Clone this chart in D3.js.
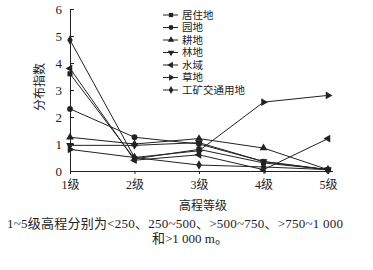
<!DOCTYPE html>
<html lang="zh">
<head>
<meta charset="UTF-8">
<title>分布指数</title>
<style>
  body { margin: 0; background: #fff; }
  text { fill: #222; }
</style>
</head>
<body>
<script src="https://cdn.jsdelivr.net/npm/d3@7"></script>
<script>
    // 数据
    var categories = ['1级', '2级', '3级', '4级', '5级'];
    var seriesNames = ['居住地', '园地', '耕地', '林地', '水域', '草地', '工矿交通用地'];
    var juzhu = [3.6, 0.45, 0.8, 0.3, 0.05];
    var yuan = [2.3, 1.25, 1.0, 0.35, 0.05];
    var geng = [1.25, 1.0, 1.2, 0.85, 0.05];
    var lin = [0.95, 0.95, 1.05, 0.35, 0.05];
    var shui = [3.8, 0.4, 0.6, 0.05, 1.2];
    var cao = [0.8, 0.5, 0.75, 2.55, 2.8];
    var gongkuang = [4.85, 0.5, 0.22, 0.15, 0.05];
    var yTicks = [0, 1, 2, 3, 4, 5, 6];

    var allSeries = [juzhu, yuan, geng, lin, shui, cao, gongkuang];
    var symbols = [d3.symbolSquare, d3.symbolCircle, 'up', 'down', 'left', 'right', d3.symbolDiamond];

    var width = 373, height = 270,
        ink = '#222',
        serif = '"Liberation Serif", "Noto Sans CJK SC", serif',
        cjk = '"Noto Sans CJK SC", sans-serif';

    var svg = d3.select('body').append('svg')
        .attr('width', width)
        .attr('height', height);

    var x = d3.scalePoint().domain(categories).range([70, 328]);
    var y = d3.scaleLinear().domain([0, 6]).range([171, 9]);

    // 坐标轴
    var xAxis = svg.append('g')
        .attr('transform', 'translate(0,171)')
        .call(d3.axisBottom(x).tickSize(3).tickSizeOuter(0));
    xAxis.select('.domain').attr('d', 'M70,0.5H333').attr('stroke', ink);
    xAxis.selectAll('line').attr('stroke', ink);
    xAxis.selectAll('text').attr('dy', '0.71em').attr('y', 9)
        .style('font-family', serif).style('font-size', '12px').attr('fill', ink);

    var yAxis = svg.append('g')
        .attr('transform', 'translate(70,0)')
        .call(d3.axisLeft(y).tickValues(yTicks).tickFormat(d3.format('d'))
            .tickSize(-4).tickSizeOuter(0).tickPadding(8));
    yAxis.select('.domain').attr('stroke', ink);
    yAxis.selectAll('line').attr('stroke', ink);
    yAxis.selectAll('text').style('font-family', serif).style('font-size', '13px').attr('fill', ink);

    // 标记
    function markerPath(s, size) {
        if (typeof s !== 'string') return d3.symbol().type(s).size(size)();
        return d3.symbol().type(d3.symbolTriangle).size(size)();
    }
    function markerRotate(s) {
        return { up: 0, right: 90, down: 180, left: 270 }[s] || 0;
    }

    var line = d3.line()
        .x(function(d, i) { return x(categories[i]); })
        .y(function(d) { return y(d); });

    var g = svg.selectAll('.series')
        .data(allSeries)
        .enter()
        .append('g')
        .attr('class', 'series');

    g.append('path')
        .attr('d', function(d) { return line(d); })
        .attr('fill', 'none')
        .attr('stroke', ink)
        .attr('stroke-width', 1);

    g.each(function(d, si) {
        d3.select(this).selectAll('path.mk')
            .data(d)
            .enter()
            .append('path')
            .attr('class', 'mk')
            .attr('d', markerPath(symbols[si], 26))
            .attr('transform', function(v, i) {
                return 'translate(' + x(categories[i]) + ',' + y(v) + ') rotate(' + markerRotate(symbols[si]) + ')';
            })
            .attr('fill', ink);
    });

    // 图例
    var legend = svg.selectAll('.legend')
        .data(seriesNames)
        .enter()
        .append('g')
        .attr('class', 'legend')
        .attr('transform', function(d, i) { return 'translate(163,' + (15 + i * 12.5) + ')'; });
    legend.append('line')
        .attr('x1', 0).attr('x2', 15)
        .attr('stroke', ink);
    legend.append('path')
        .attr('d', function(d, i) { return markerPath(symbols[i], 18); })
        .attr('transform', function(d, i) { return 'translate(8,0) rotate(' + markerRotate(symbols[i]) + ')'; })
        .attr('fill', ink);
    legend.append('text')
        .attr('x', 19)
        .attr('dy', '0.35em')
        .style('font-family', cjk)
        .style('font-size', '10.5px')
        .text(function(d) { return d; });

    // 轴标题
    svg.append('text')
        .attr('transform', 'translate(40,87) rotate(-90)')
        .attr('text-anchor', 'middle')
        .attr('dy', '0.35em')
        .style('font-family', cjk)
        .style('font-size', '12px')
        .text('分布指数');

    svg.append('text')
        .attr('x', 203).attr('y', 206)
        .attr('text-anchor', 'middle')
        .attr('dy', '0.35em')
        .style('font-family', cjk)
        .style('font-size', '12px')
        .text('高程等级');

    // 注释
    svg.append('text')
        .attr('x', 7).attr('y', 223)
        .attr('dy', '0.35em')
        .attr('textLength', 336)
        .style('font-family', serif)
        .style('font-size', '13px')
        .text('1~5级高程分别为<250、250~500、>500~750、>750~1 000');

    svg.append('text')
        .attr('x', 152).attr('y', 238)
        .attr('dy', '0.35em')
        .style('font-family', serif)
        .style('font-size', '13px')
        .text('和>1 000 m。');
</script>
</body>
</html>
